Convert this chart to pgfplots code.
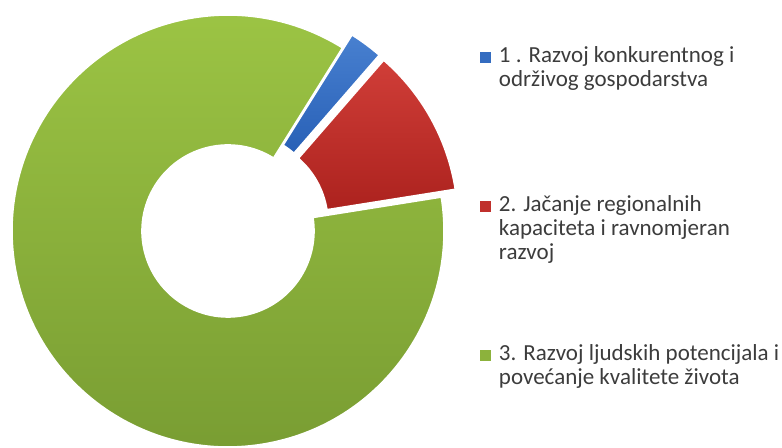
\documentclass[border=0pt]{standalone}
\usepackage{fontspec}
\setmainfont{Carlito}
\usepackage{pgfplots}
\usepackage{pgfplotstable}
\pgfplotsset{compat=1.18}

% slice colours (top / bottom of the gradient) and legend squares
\definecolor{sliceAt}{RGB}{72,128,208}
\definecolor{sliceAb}{RGB}{40,96,182}
\definecolor{sliceBt}{RGB}{208,62,56}
\definecolor{sliceBb}{RGB}{172,34,30}
\definecolor{sliceCt}{RGB}{156,196,68}
\definecolor{sliceCb}{RGB}{120,156,50}
\definecolor{legA}{RGB}{52,108,192}
\definecolor{legB}{RGB}{192,48,44}
\definecolor{legC}{RGB}{140,178,60}
\definecolor{legtext}{RGB}{60,60,60}

% share in percent, explode offset in pt
\pgfplotstableread{
id value explode
A 2.5 8
B 11.1 8
C 86.4 0
}\shares

\begin{document}
\begin{tikzpicture}
\begin{axis}[
  scale only axis, width=391pt, height=224pt,
  xmin=0, xmax=782, ymin=0, ymax=448,
  hide axis, clip=false,
  legend cell align=left,
  legend style={draw=none, fill=none, inner sep=0pt, outer sep=0pt,
    at={(0.6138,0.8929)}, anchor=north west,
    font=\fontsize{11.5}{12}\selectfont, text=legtext,
    cells={anchor=base west},
    nodes={inner sep=0pt, text height=7.5pt, text depth=67pt},
    column sep=4pt, row sep=0pt},
  legend image code/.code={\fill[#1] (0pt,0pt) rectangle (5.5pt,5.5pt);},
]
\def\cur{58}
\pgfplotsforeachungrouped \i in {0,1,2}{%
  \pgfplotstablegetelem{\i}{value}\of\shares \let\val\pgfplotsretval
  \pgfplotstablegetelem{\i}{explode}\of\shares \let\exd\pgfplotsretval
  \pgfplotstablegetelem{\i}{id}\of\shares \let\sid\pgfplotsretval
  \pgfmathsetmacro\endang{\cur-3.6*\val}
  \pgfmathsetmacro\midang{(\cur+\endang)/2}
  \edef\temp{\noexpand\path[top color=slice\sid t, bottom color=slice\sid b,
    draw=white, line width=0.8pt,
    shift={(axis cs:228,217)}, shift={(\midang:\exd pt)}]
    (\cur:108pt) arc[start angle=\cur, end angle=\endang, radius=108pt]
    -- (\endang:43pt) arc[start angle=\endang, end angle=\cur, radius=43pt]
    -- cycle;}
  \temp
  \let\cur\endang
}

\addlegendimage{fill=legA, draw=none}
\addlegendentry{\parbox[t]{180pt}{1 . Razvoj konkurentnog i\\održivog gospodarstva}}
\addlegendimage{fill=legB, draw=none}
\addlegendentry{\parbox[t]{180pt}{2. Jačanje regionalnih\\kapaciteta i ravnomjeran\\razvoj}}
\addlegendimage{fill=legC, draw=none}
\addlegendentry{\parbox[t]{180pt}{3. Razvoj ljudskih potencijala i\\povećanje kvalitete života}}
\end{axis}
\pgfresetboundingbox
\path (current axis.south west) rectangle (current axis.north east);
\end{tikzpicture}
\end{document}
